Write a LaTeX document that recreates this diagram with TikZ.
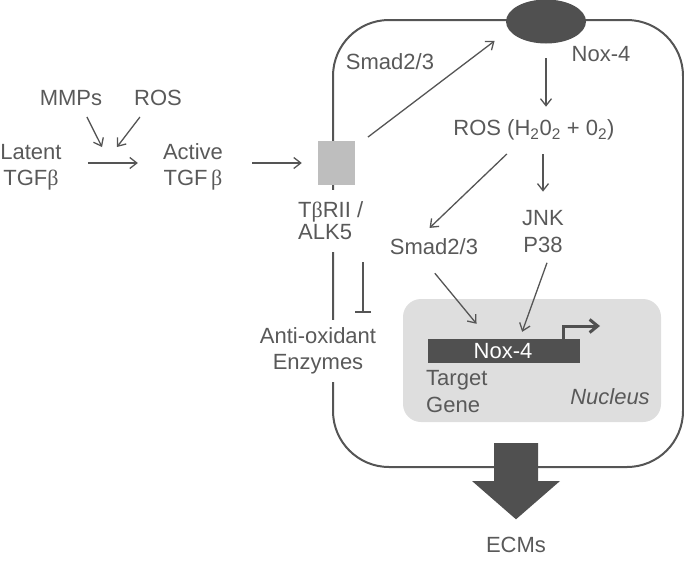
\documentclass[tikz,border=0pt]{standalone}
\usepackage{fontspec}
\setmainfont{Liberation Sans}
\newfontfamily\serifb{Liberation Serif}
\usetikzlibrary{arrows.meta,shapes.geometric,calc}
\definecolor{tgray}{HTML}{595959}
\definecolor{dgray}{HTML}{505050}
\definecolor{lgray}{HTML}{555555}
\definecolor{recgray}{HTML}{BEBEBE}
\definecolor{nucgray}{HTML}{DEDEDE}
\newcommand{\bt}{{\serifb β}}
\begin{document}
\begin{tikzpicture}[x=1pt,y=-1pt,
  txt/.style={font=\fontsize{22}{26}\selectfont, text=tgray, inner sep=0pt, align=center},
  one/.style={txt, text height=16pt, text depth=5pt},
  arr/.style={draw=lgray, line width=1.3pt, -{Straight Barb[length=7pt,width=11pt]}},
  inh/.style={draw=lgray, line width=1.3pt, -{Bar[width=16pt,line width=1.3pt]}},
  tss/.style={draw=dgray, line width=3pt, -{Straight Barb[length=8pt,width=13pt]}},
  cellline/.style={draw=lgray, line width=2pt}]
\useasboundingbox (0,0) rectangle (684,560);
% cell
\draw[cellline, rounded corners=56pt] (333,20) rectangle (683,467);
% nucleus
\node[fill=nucgray, rounded corners=18pt, minimum width=258pt, minimum height=123pt, inner sep=0pt] (nuc) at (532,360.5) {};
% nodes
\node[txt] (lat) at (31,167) {Latent\\TGF\bt};
\node[txt] (act) at (193,167) {Active\\TGF\,\bt};
\node[one] (mmps) at (71,100) {MMPs};
\node[one] (rosl) at (158,100) {ROS};
\coordinate (c1) at (102,147);
\coordinate (c2) at (117,147);
\node[txt, font=\fontsize{22}{22}\selectfont, align=left, fill=white, inner xsep=1pt, inner ysep=12pt, anchor=west] (tbr) at (297,221) {T\bt RII /\\ALK5};
\node[fill=recgray, minimum width=37pt, minimum height=44pt, inner sep=0pt] (rec) at (336.5,163) {};
\node[txt, fill=white, inner xsep=2pt, inner ysep=8pt] (anti) at (318,351) {Anti-oxidant\\Enzymes};
\node[ellipse, fill=dgray, minimum width=80pt, minimum height=44pt, inner sep=0pt] (nox) at (546,21.5) {};
\node[one] (noxl) at (601,56) {Nox-4};
\node[one] (smadtop) at (390,64) {Smad2/3};
\node[one] (ros) at (534,130.4) {ROS (H\textsubscript{2}0\textsubscript{2} + 0\textsubscript{2})};
\node[txt, font=\fontsize{22}{27}\selectfont] (jnk) at (543,232) {JNK\\P38};
\node[one] (smad) at (434,249) {Smad2/3};
\node[fill=dgray, minimum width=152pt, minimum height=24pt, inner sep=0pt] (gene) at (504,351) {};
\node[one, text=white] (genel) at (503,353) {Nox-4};
\node[txt, font=\fontsize{22}{27}\selectfont, align=left, anchor=west] (target) at (426,392) {Target\\Gene};
\node[one, font=\fontsize{22}{26}\selectfont\itshape] (nucl) at (610,399) {Nucleus};
\node[one] (ecms) at (516,547) {ECMs};
\coordinate (tssend) at (600,326);
% big arrow
\fill[dgray] (494,443) -- (538,443) -- (538,481) -- (560,481) -- (516,519.3) -- (472,481) -- (494,481) -- cycle;
% connectors
\draw[arr, shorten <=26pt, shorten >=25pt] ([yshift=4pt]lat.east) -- ([yshift=4pt]act.west);
\draw[arr, shorten <=7pt] (mmps.-40) -- (c1);
\draw[arr, shorten <=8pt] (rosl.-141) -- (c2);
\draw[arr, shorten <=29pt, shorten >=16pt] (act.east |- rec.west) -- (rec.west);
\draw[arr, shorten <=16pt, shorten >=18pt] (rec.41) -- (nox.193);
\draw[arr, shorten <=14.5pt, shorten >=13pt] (nox.south) -- (nox.south |- ros.north);
\draw[arr, shorten <=18.7pt, shorten >=15pt] (ros.218) -- (smad.145);
\draw[arr, shorten <=13pt, shorten >=19pt] (jnk.north |- ros.south) -- (jnk.north);
\draw[arr, shorten <=17.5pt, shorten >=19.5pt] (smad.-134) -- (gene.141);
\draw[arr, shorten <=10pt, shorten >=7.4pt] (jnk.-71) -- (gene.38);
\draw[inh] ($(anti.north |- tbr.south)+(45,10)$) -- ($(anti.north)+(45,-7)$);
\draw[tss] ([xshift=-17pt]gene.north east) |- (tssend);
\end{tikzpicture}
\end{document}
